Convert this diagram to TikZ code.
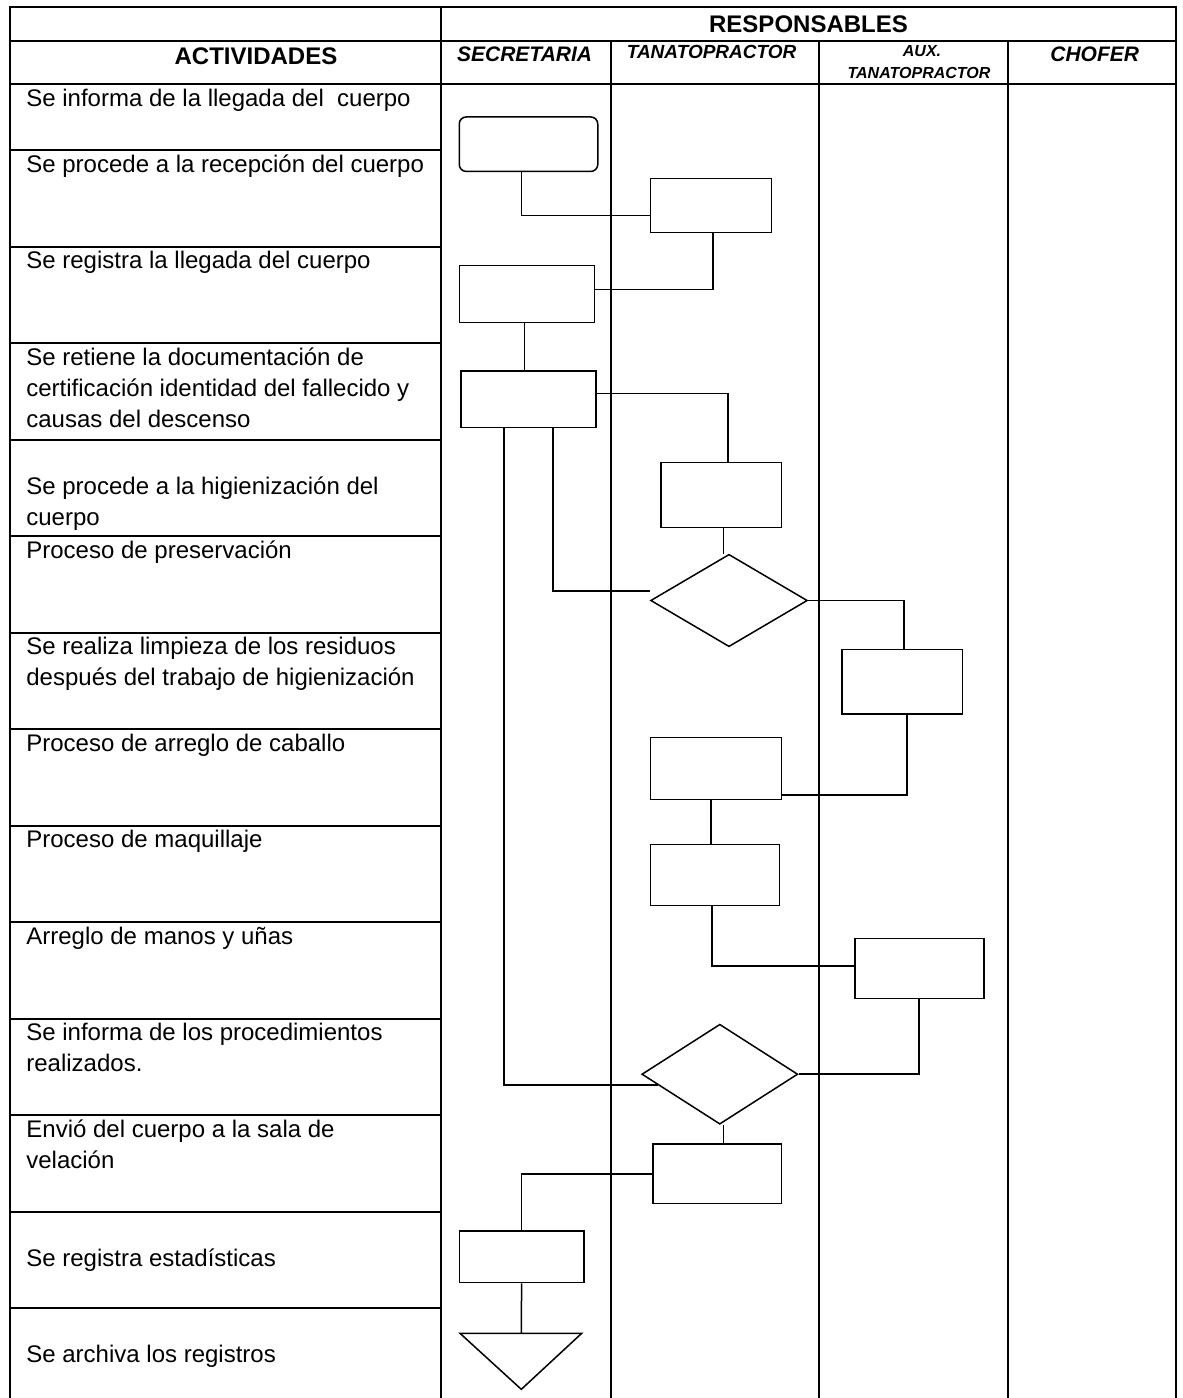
\documentclass[tikz,border=0pt]{standalone}
\usepackage{fontspec}
\setmainfont{Liberation Sans}
\usetikzlibrary{shapes.geometric}
\begin{document}
\begin{tikzpicture}[x=0.5pt,y=-0.5pt,
	tabla/.style={line width=1pt},
	linea/.style={line width=0.75pt},
	caja/.style 2 args={draw,line width=0.75pt,inner sep=0pt,minimum width=#1pt,minimum height=#2pt},
	rombo/.style 2 args={draw,diamond,line width=0.75pt,inner sep=0pt,minimum width=#1pt,minimum height=#2pt},
	actividad/.style={anchor=base west,align=left,inner sep=0pt,font=\fontsize{12}{15.5}\selectfont},
	cargo/.style={anchor=base,inner sep=0pt,font=\bfseries\itshape\fontsize{10.5}{12}\selectfont}]
	\useasboundingbox (0,0) rectangle (1183,1398);
	\draw[tabla] (10,1398)--(10,7.3)--(1176,7.3)--(1176,1398);
	\draw[tabla] (441,7.3)--(441,1398);
	\draw[tabla] (10,41)--(1176,41) (10,84)--(1176,84);
	\draw[tabla] (611,41)--(611,1398) (819,41)--(819,1398) (1008,41)--(1008,1398);
	\draw[tabla] (10,150)--(441,150) (10,246.5)--(441,246.5) (10,343)--(441,343) (10,439.5)--(441,439.5);
	\draw[tabla] (10,536)--(441,536) (10,632.5)--(441,632.5) (10,729)--(441,729) (10,825.5)--(441,825.5);
	\draw[tabla] (10,922)--(441,922) (10,1018.5)--(441,1018.5) (10,1115)--(441,1115) (10,1211.5)--(441,1211.5) (10,1308)--(441,1308);
	\node[anchor=base,inner sep=0pt,font=\bfseries\fontsize{12}{14}\selectfont] (responsables) at (808.5,32) {RESPONSABLES};
	\node[anchor=base,inner sep=0pt,font=\bfseries\fontsize{12}{14}\selectfont] (actividades) at (256,64.7) {ACTIVIDADES};
	\node[cargo] (secretaria) at (524.6,61.7) {SECRETARIA};
	\node[cargo,font=\bfseries\itshape\fontsize{9.5}{11}\selectfont] (tanato) at (711.6,58) {TANATOPRACTOR};
	\node[cargo,font=\bfseries\itshape\fontsize{8}{10}\selectfont] (aux) at (922,56.7) {AUX.};
	\node[cargo,font=\bfseries\itshape\fontsize{8}{10}\selectfont] (auxtanato) at (919,78.3) {TANATOPRACTOR};
	\node[cargo] (chofer) at (1094.7,61.7) {CHOFER};
	\node[actividad] (a1) at (26,106) {Se informa de la llegada del~ cuerpo};
	\node[actividad] (a2) at (26,172) {Se procede a la recepción del cuerpo};
	\node[actividad] (a3) at (26,268.5) {Se registra la llegada del cuerpo};
	\node[actividad] (a4) at (26,427) {Se retiene la documentación de\\certificación identidad del fallecido y\\causas del descenso};
	\node[actividad] (a5) at (26,525) {Se procede a la higienización del\\cuerpo};
	\node[actividad] (a6) at (26,558) {Proceso de preservación};
	\node[actividad] (a7) at (26,685.5) {Se realiza limpieza de los residuos\\después del trabajo de higienización};
	\node[actividad] (a8) at (26,751) {Proceso de arreglo de caballo};
	\node[actividad] (a9) at (26,847.5) {Proceso de maquillaje};
	\node[actividad] (a10) at (26,944) {Arreglo de manos y uñas};
	\node[actividad] (a11) at (26,1071.5) {Se informa de los procedimientos\\realizados.};
	\node[actividad] (a12) at (26,1168) {Envió del cuerpo a la sala de\\velación};
	\node[actividad] (a13) at (26,1266.5) {Se registra estadísticas};
	\node[actividad] (a14) at (26,1362) {Se archiva los registros};
	\node[caja={69.25}{27.25},rounded corners=3.5pt] (ini) at (528.5,144.2) {};
	\node[caja={60.5}{27}] (recep) at (711,205.3) {};
	\node[caja={67.5}{28.5}] (regis) at (526.8,294.2) {};
	\node[caja={67.5}{28.35}] (reten) at (528.7,399.3) {};
	\node[caja={60.25}{32.3}] (higien) at (721.1,495) {};
	\node[rombo={78.4}{46.2}] (preserv) at (729,600.5) {};
	\node[caja={60.25}{32.35}] (limp) at (902.1,681.7) {};
	\node[caja={65.4}{31}] (cab) at (716,768.3) {};
	\node[caja={64.5}{30.7}] (maq) at (715,875) {};
	\node[caja={64.5}{30}] (manos) at (919.7,968.3) {};
	\node[rombo={78}{50}] (infor) at (719.8,1074.2) {};
	\node[caja={64.25}{29.85}] (envio) at (717.1,1173.8) {};
	\node[caja={62.35}{25.85}] (estad) at (521.6,1256.8) {};
	\coordinate (archivo) at (521.3,1333.3);
	\draw[linea] (460,1333.3)--(581.7,1333.3)--(521.3,1389.3)--cycle;
	\draw[linea] (ini.south -| 521.7,0) |- (recep.west |- 0,215.3);
	\draw[linea] (recep.south -| 713,0) |- (regis.east |- 0,289.3);
	\draw[linea] (regis.south -| 524.3,0) -- (reten.north -| 524.3,0);
	\draw[linea] (reten.east |- 0,393.3) -| (higien.north -| 728.2,0);
	\draw[linea] (higien.south -| 723.3,0) -- (preserv.north -| 723.3,0);
	\draw[linea] (reten.south -| 553,0) |- (preserv.west |- 0,591);
	\draw[linea] (preserv.east) -| (limp.north -| 904.2,0);
	\draw[linea] (limp.south -| 906.9,0) |- (cab.east |- 0,795);
	\draw[linea] (cab.south -| 711,0) -- (maq.north -| 711,0);
	\draw[linea] (maq.south -| 711.8,0) |- (manos.west |- 0,966);
	\draw[linea] (manos.south -| 919.1,0) |- (infor.east);
	\draw[linea] (reten.south -| 504,0) |- (infor.190);
	\draw[linea] (infor.south -| 723.3,0) -- (envio.north -| 723.3,0);
	\draw[linea] (envio.west) -| (estad.north);
	\draw[linea] (estad.south) -- (archivo);
\end{tikzpicture}
\end{document}
